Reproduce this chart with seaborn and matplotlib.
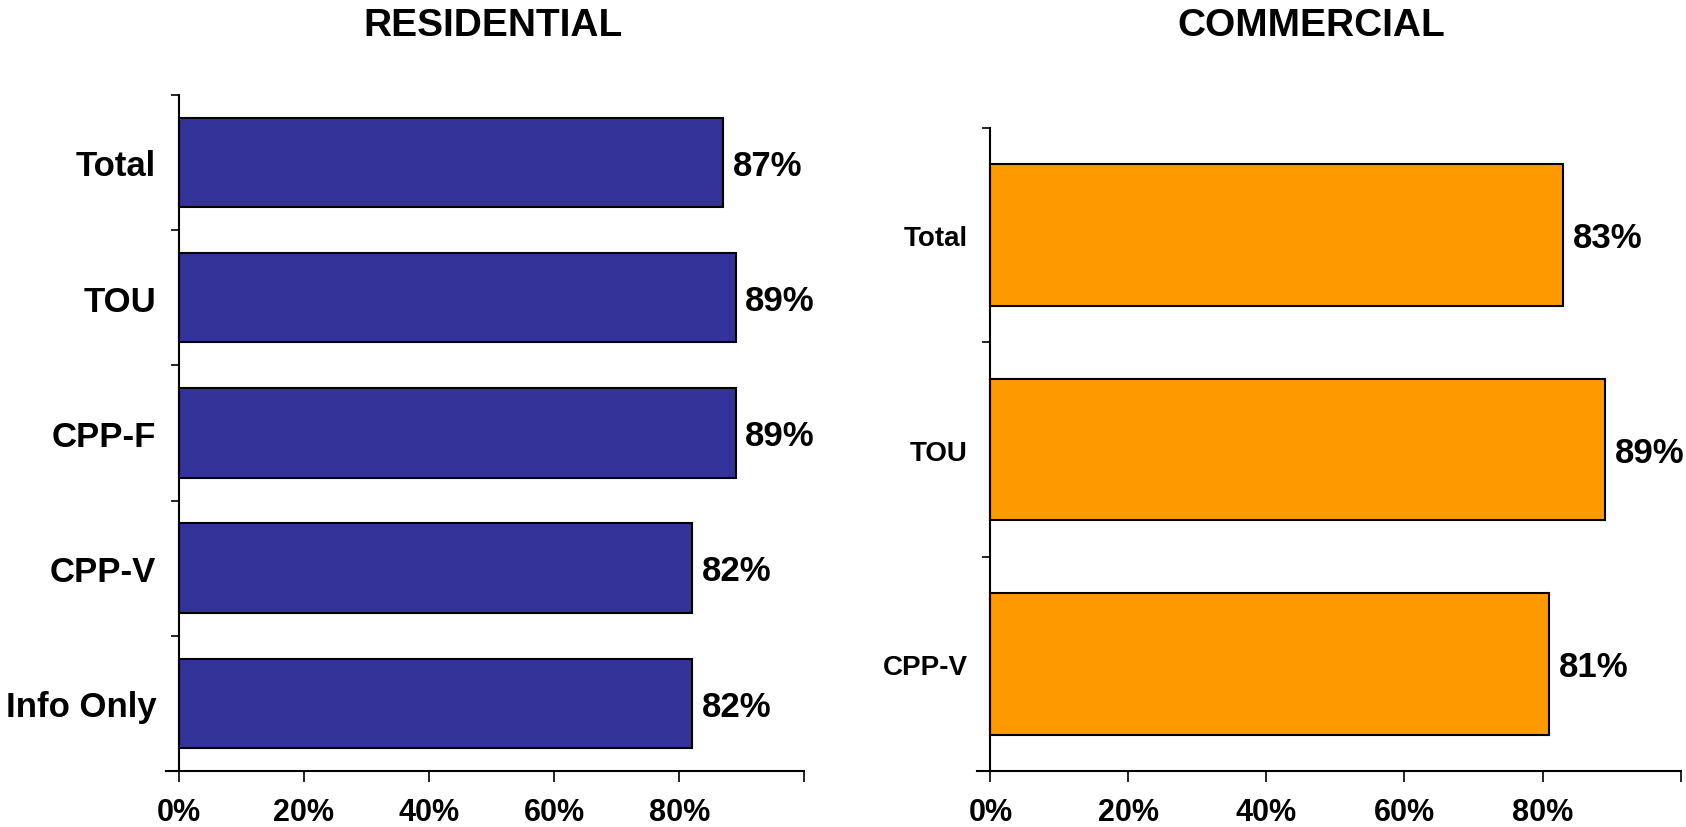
import matplotlib
matplotlib.use("Agg")
import matplotlib.pyplot as plt
import seaborn as sns
import numpy as np
import pandas as pd
from matplotlib.ticker import FixedLocator

# data
res_labels = ["Total", "TOU", "CPP-F", "CPP-V", "Info Only"]
res_values = [0.87, 0.89, 0.89, 0.82, 0.82]
com_labels = ["Total", "TOU", "CPP-V"]
com_values = [0.83, 0.89, 0.81]
x_ticks = [0.0, 0.2, 0.4, 0.6, 0.8, 1.0]
x_tick_labels = ["0%", "20%", "40%", "60%", "80%", ""]

sns.set_style("white")
plt.rcParams["font.family"] = ["Liberation Sans", "DejaVu Sans"]
plt.rcParams["font.weight"] = "bold"
for k in ("text.color", "axes.labelcolor", "xtick.color", "ytick.color"):
    plt.rcParams[k] = "black"

fig = plt.figure(figsize=(16.86, 8.28), dpi=100)
ax_res = fig.add_axes([0.0985, 0.0676, 0.3786, 0.8168])
ax_com = fig.add_axes([0.5792, 0.0676, 0.4176, 0.7766])


def draw_panel(ax, labels, values, color, label_size):
    df = pd.DataFrame({"cat": labels, "val": values})
    sns.barplot(data=df, x="val", y="cat", orient="h", color=color,
                width=0.66, edgecolor="black", linewidth=1.5, saturation=1,
                ax=ax)
    n = len(labels)
    ax.set_xlim(-0.02, 1.0)
    ax.set_ylim(n - 0.5, -0.5)
    ax.set_xlabel("")
    ax.set_ylabel("")

    # spines: left at x=0, bottom only
    ax.spines["right"].set_visible(False)
    ax.spines["top"].set_visible(False)
    ax.spines["left"].set_position(("data", 0))
    for s in ("left", "bottom"):
        ax.spines[s].set_color("black")
        ax.spines[s].set_linewidth(1.5)

    # y: ticks on category boundaries, labels centred on bars
    ax.yaxis.set_major_locator(FixedLocator(np.arange(n + 1) - 0.5))
    ax.yaxis.set_minor_locator(FixedLocator(np.arange(n)))
    ax.set_yticklabels([""] * (n + 1))
    ax.set_yticklabels(labels, minor=True)
    ax.tick_params(axis="y", which="major", direction="out", length=6,
                   width=1.2, color="black", left=True)
    ax.tick_params(axis="y", which="minor", length=0, pad=16,
                   labelsize=label_size)

    # x: percentage ticks
    ax.set_xticks(x_ticks)
    ax.set_xticklabels(x_tick_labels)
    ax.tick_params(axis="x", direction="out", length=8, width=1.2,
                   color="black", bottom=True, pad=11)
    for t in ax.get_xticklabels():
        t.set_fontweight("bold")
        t.set_fontsize(22)
    for t in ax.get_yticklabels(minor=True):
        t.set_fontweight("bold")

    # value labels at bar ends
    for i, v in enumerate(values):
        ax.annotate(f"{v * 100:.0f}%", xy=(v, i), xytext=(7, -2),
                    textcoords="offset points", ha="left", va="center",
                    fontsize=25, fontweight="bold", color="black")


draw_panel(ax_res, res_labels, res_values, "#333399", 25)
draw_panel(ax_com, com_labels, com_values, "#FF9900", 20)

fig.text(0.2927, 0.969, "RESIDENTIAL", ha="center", va="center",
         fontsize=28, fontweight="bold")
fig.text(0.7775, 0.969, "COMMERCIAL", ha="center", va="center",
         fontsize=28, fontweight="bold")

fig.savefig("out.png", dpi=100)
